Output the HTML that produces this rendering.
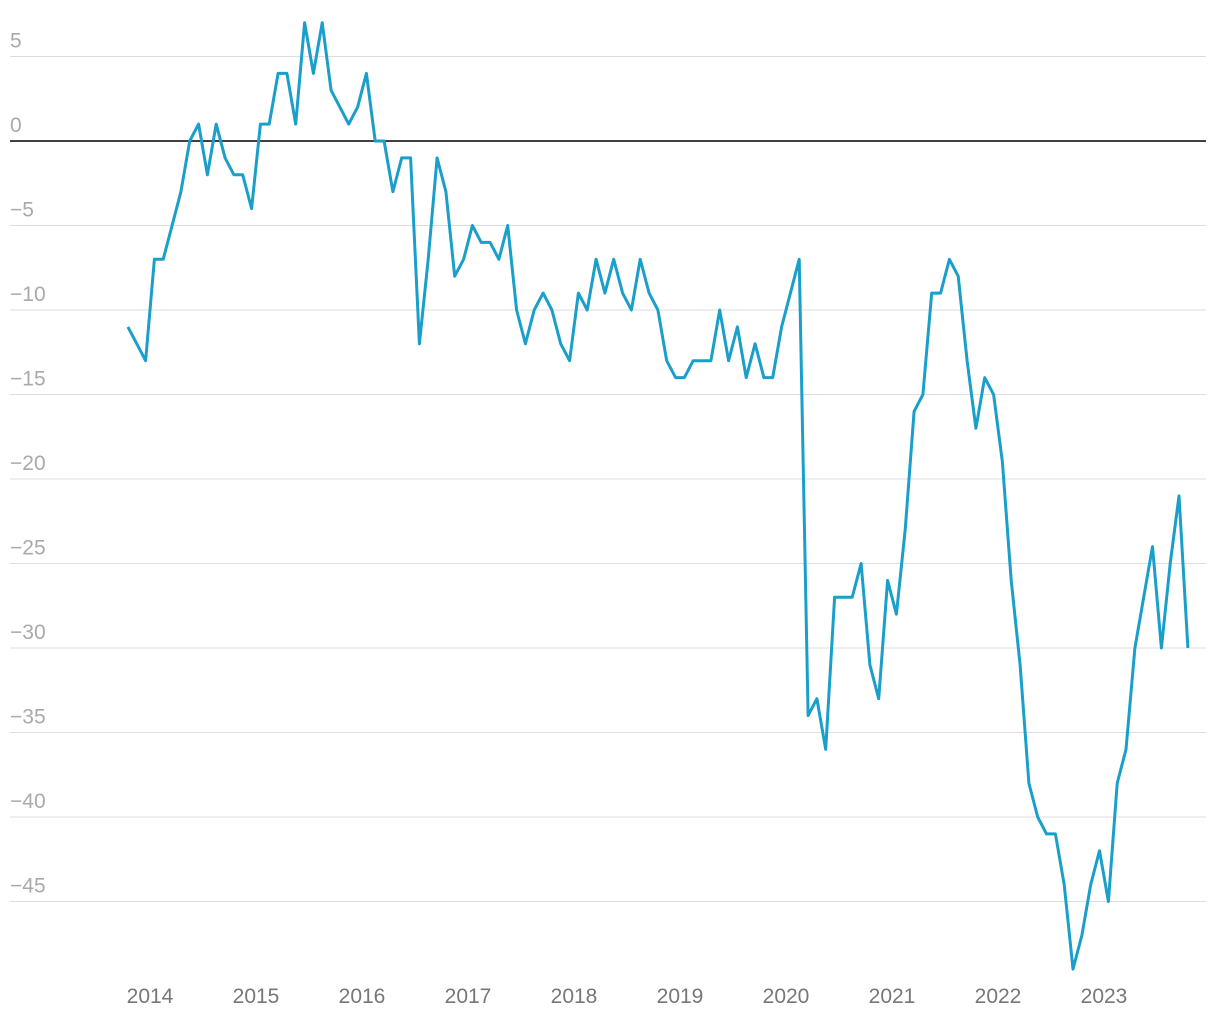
<!DOCTYPE html>
<html><head><meta charset="utf-8"><style>
body{margin:0;background:#fff;}
svg{display:block;font-family:"Liberation Sans",sans-serif;}
</style></head><body>
<svg id="chart" width="1220" height="1020" xmlns="http://www.w3.org/2000/svg">
<g id="grid"></g>
<g id="yl"></g>
<g id="xl"></g>
<path id="line" fill="none" stroke="#1a9fcb" stroke-width="3" stroke-linejoin="round"/>
</svg>
<script>
const values=[-11,-12,-13,-7,-7,-5,-3,0,1,-2,
1,-1,-2,-2,-4,1,1,4,4,1,
7,4,7,3,2,1,2,4,0,0,
-3,-1,-1,-12,-7,-1,-3,-8,-7,-5,
-6,-6,-7,-5,-10,-12,-10,-9,-10,-12,
-13,-9,-10,-7,-9,-7,-9,-10,-7,-9,
-10,-13,-14,-14,-13,-13,-13,-10,-13,-11,
-14,-12,-14,-14,-11,-9,-7,-34,-33,-36,
-27,-27,-27,-25,-31,-33,-26,-28,-23,-16,
-15,-9,-9,-7,-8,-13,-17,-14,-15,-19,
-26,-31,-38,-40,-41,-41,-44,-49,-47,-44,
-42,-45,-38,-36,-30,-27,-24,-30,-25,-21,
-30];
const yTicks=[5,0,-5,-10,-15,-20,-25,-30,-35,-40,-45];
const years=[2014,2015,2016,2017,2018,2019,2020,2021,2022,2023];
const startOffset=-2.5; // months relative to first year label
const NS="http://www.w3.org/2000/svg";
const y=v=>141-v*16.9;
const xMonth=m=>150+m*8.833;
const xi=i=>xMonth(startOffset+i);
const xYear=yr=>150+(yr-years[0])*106;
const grid=document.getElementById('grid'),yl=document.getElementById('yl'),xl=document.getElementById('xl');
yTicks.forEach(t=>{
  const l=document.createElementNS(NS,'line');
  
  
  l.setAttribute('x1',10);l.setAttribute('x2',1206);
  l.setAttribute('y1',y(t));l.setAttribute('y2',y(t));
  l.setAttribute('stroke',t===0?'#000':'#ddd');l.setAttribute('stroke-width',t===0?1.5:1);
  grid.appendChild(l);
  const tx=document.createElementNS(NS,'text');
  
  
  tx.setAttribute('x',10);tx.setAttribute('y',y(t)-9);
  tx.setAttribute('fill','#aaa');tx.setAttribute('font-size','21');
  tx.textContent=t<0?'\u2212'+Math.abs(t):String(t);
  yl.appendChild(tx);
});
years.forEach(yr=>{
  const tx=document.createElementNS(NS,'text');
  
  
  tx.setAttribute('x',xYear(yr));tx.setAttribute('y',1003);
  tx.setAttribute('text-anchor','middle');
  tx.setAttribute('fill','#777');tx.setAttribute('font-size','21');
  tx.textContent=yr;
  xl.appendChild(tx);
});
document.getElementById('line').setAttribute('d',values.map((v,i)=>(i?'L':'M')+xi(i).toFixed(1)+' '+y(v).toFixed(1)).join(''));
</script>
</body></html>
